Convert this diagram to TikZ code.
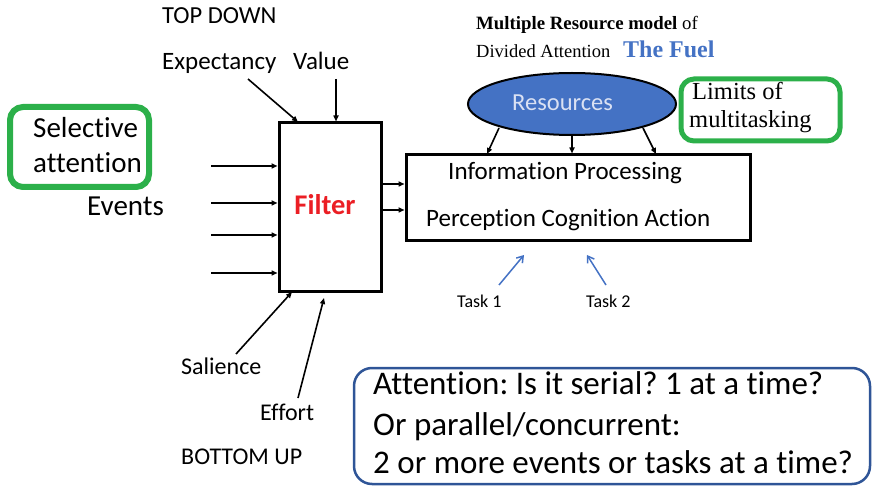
\documentclass[tikz,border=0pt]{standalone}
\usepackage{fontspec}
\setmainfont{Carlito}[Ligatures={NoCommon}]
\newfontfamily\timesfont{Liberation Serif}
\usetikzlibrary{arrows.meta,shapes.geometric}
\frenchspacing
\definecolor{boxgreen}{RGB}{44,176,74}
\definecolor{fuelblue}{RGB}{68,114,196}
\definecolor{framblue}{RGB}{47,85,151}
\definecolor{filterred}{RGB}{235,30,36}
\definecolor{restext}{RGB}{218,225,243}
\tikzset{
  txt/.style={inner sep=0pt, anchor=base west},
  fs/.style={font=\fontsize{#1}{#1}\selectfont},
  blk/.style={draw=black, line width=3pt, inner sep=0pt},
  greenbox/.style={draw=boxgreen, line width=6pt, rounded corners=13pt, inner sep=0pt},
  arr/.style={line width=1.6pt, -{Triangle[length=6pt,width=5pt]}},
  barr/.style={draw=fuelblue, line width=1.5pt, -{Straight Barb[length=6pt,width=8pt]}},
}
\begin{document}
\begin{tikzpicture}[x=1pt,y=-1pt]
\useasboundingbox (0,0) rectangle (872,486);

% main blocks
\node[blk, minimum width=102pt, minimum height=168pt] (filter) at (330,207) {};
\node[blk, minimum width=344pt, minimum height=86pt] (proc) at (578,198) {};
\node[draw=black, line width=2pt, fill=fuelblue, ellipse, inner sep=0pt,
      minimum width=208pt, minimum height=62pt] (res) at (572,104) {};
\node[greenbox, minimum width=139pt, minimum height=80pt] (selbox) at (79.5,147) {};
\node[greenbox, line width=5pt, minimum width=159pt, minimum height=62pt] (limbox) at (760.5,110) {};
\node[draw=framblue, line width=2.5pt, rounded corners=18pt, inner sep=0pt,
      minimum width=516pt, minimum height=116pt] (qbox) at (612,426) {};

% labels
\node[txt, fs=24.5] (td) at (162,24) {TOP DOWN};
\node[txt, fs=25] (expect) at (162,70) {Expectancy};
\node[txt, fs=25] (value) at (293,70) {Value};
\node[txt, fs=29] (sel1) at (33,138) {Selective};
\node[txt, fs=29] (sel2) at (33,173) {attention};
\node[txt, fs=29] (events) at (87,216) {Events};
\node[inner sep=0pt, anchor=base, fs=28.5, text=filterred] (ftxt) at (325,215) {\bfseries Filter};
\node[txt, fs=24] (sal) at (181,374) {Salience};
\node[txt, fs=24] (eff) at (260,420) {Effort};
\node[txt, fs=24] (bu) at (181,464) {BOTTOM UP};

\node[txt, fs=18.8] (mr1) at (476,30) {\timesfont\bfseries Multiple Resource model \mdseries of};
\node[txt, fs=18.5] (mr2) at (476,58) {\timesfont Divided Attention};
\node[txt, fs=24] (fuel) at (623,58) {\color{fuelblue}\timesfont\bfseries The Fuel};
\node[txt, fs=24.5, text=restext] (restxt) at (512,111) {Resources};
\node[txt, fs=24.5] (lim1) at (692,100) {\timesfont Limits of};
\node[txt, fs=24.5] (lim2) at (689,128) {\timesfont multitasking};
\node[txt, fs=25] (ip) at (448,180) {Information Processing};
\node[txt, fs=25] (pca) at (426,227) {Perception Cognition Action};
\node[txt, fs=18] (t1) at (457,307) {Task 1};
\node[txt, fs=18] (t2) at (586,307) {Task 2};

\node[txt, fs=33] (q1) at (373,394) {Attention: Is it serial? 1 at a time?};
\node[txt, fs=33] (q2) at (373,435) {Or parallel/concurrent:};
\node[txt, fs=33] (q3) at (373,473) {2 or more events or tasks at a time?};

% incoming events
\foreach \y/\n in {166/1,203/2,235/3,273/4}{
  \coordinate (ev\n) at (211,\y);
  \draw[arr] (ev\n) -- (ev\n -| filter.west);
}
% top-down influences
\coordinate (expS) at (248,79);
\coordinate (valS) at (336,79);
\draw[arr] (expS) -- (298,122);
\draw[arr] (valS) -- (valS |- filter.north);
% bottom-up influences
\coordinate (salS) at (236,354);
\coordinate (effS) at (298,398);
\draw[arr] (salS) -- (292,292);
\draw[arr] (effS) -- (324,298);
% filter to processing
\coordinate (o1) at (381,184);
\coordinate (o2) at (381,210);
\draw[arr] (o1) -- (o1 -| proc.west);
\draw[arr] (o2) -- (o2 -| proc.west);
% resources feeding processing
\coordinate (rL) at (499,128);
\coordinate (rR) at (643,128);
\draw[arr] (rL) -- (487,154);
\draw[arr] (res.south) -- (res.south |- proc.north);
\draw[arr] (rR) -- (656,154);
% tasks
\coordinate (t1a) at (499,285);
\coordinate (t2a) at (606,285);
\draw[barr] (t1a) -- (524,255);
\draw[barr] (t2a) -- (587,255);
\end{tikzpicture}
\end{document}
